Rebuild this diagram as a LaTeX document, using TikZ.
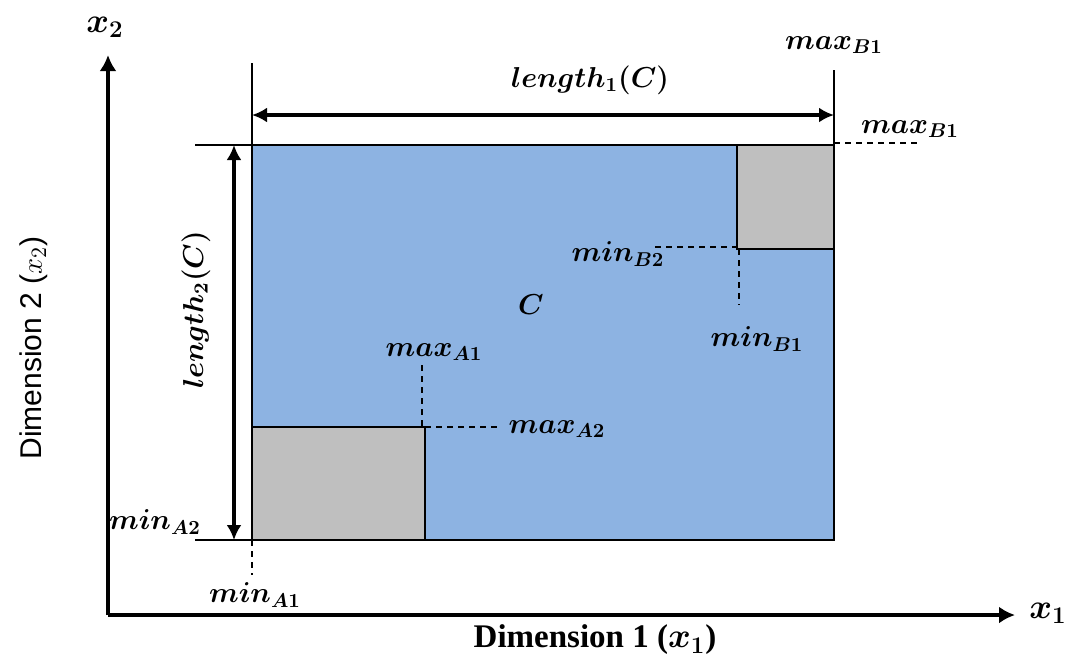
\documentclass[tikz,border=0pt]{standalone}
\usepackage{fontspec}
\usepackage{bm}
\usetikzlibrary{arrows.meta}
\newfontfamily\arialfont{Liberation Sans}
\newfontfamily\timesfont{Liberation Serif}[BoldFont={Liberation Serif Bold}]
\definecolor{cblue}{HTML}{8DB3E2}
\definecolor{cgray}{HTML}{BFBFBF}
\begin{document}
\begin{tikzpicture}[x=0.5pt,y=-0.5pt,
  axis/.style={line width=2pt,-{Latex[length=8pt,width=8.5pt]}},
  dim/.style={line width=1.8pt,{Latex[length=7.5pt,width=7.5pt]}-{Latex[length=7.5pt,width=7.5pt]}},
  guide/.style={line width=0.8pt},
  dashline/.style={line width=0.8pt,dash pattern=on 3pt off 2.5pt},
  lab/.style={inner sep=0pt,font=\fontsize{14.5}{17}\selectfont},
  boxc/.style={draw=black,line width=1.2pt}]
\useasboundingbox (0,0) rectangle (1074,661);
% coordinates
\coordinate (O) at (108,615);
\coordinate (Ytip) at (108,55);
\coordinate (Xtip) at (1015,615);
\coordinate (C1) at (252,145);
\coordinate (C2) at (834,540);
\coordinate (B1) at (737,145);
\coordinate (B2) at (834,249);
\coordinate (A1) at (252,427);
\coordinate (A2) at (425,540);
% main rectangle and boxes
\fill[cblue] (C1) rectangle (C2);
\fill[cgray] (B1) rectangle (B2);
\fill[cgray] (A1) rectangle (A2);
\draw[boxc] (C1) rectangle (C2);
\draw[boxc] (B1) rectangle (B2);
\draw[boxc] (A1) rectangle (A2);
% axes
\draw[axis] (O) -- (Ytip);
\draw[axis] (O) -- (Xtip);
\node[inner sep=0pt,font=\fontsize{18}{20}\selectfont] (x2) at (105,27) {$\bm{x_2}$};
\node[inner sep=0pt,font=\fontsize{18}{20}\selectfont] (x1) at (1048,613) {$\bm{x_1}$};
% guide lines
\coordinate (gL1) at (252,63);
\coordinate (gR1) at (834,70);
\coordinate (gT) at (195,145);
\coordinate (gB) at (195,540);
\coordinate (gB2) at (265,540);
\draw[guide] (gL1) -- (C1);
\draw[guide] (gR1) -- (834,145);
\draw[guide] (gT) -- (C1);
\draw[guide] (gB) -- (gB2);
% dimension arrows
\coordinate (d1a) at (252,115);
\coordinate (d1b) at (834,115);
\coordinate (d2a) at (234,145);
\coordinate (d2b) at (234,540);
\draw[dim] (d1a) -- (d1b);
\draw[dim] (d2a) -- (d2b);
\node[lab] (len1) at (590,80) {$\bm{length_1(C)}$};
\node[lab,rotate=90] (len2) at (196,310) {$\bm{length_2(C)}$};
% C label
\node[lab] (Clab) at (531,305) {$\bm{C}$};
% dashed guides
\coordinate (mA1e) at (252,575);
\draw[dashline] (252,540) -- (mA1e);
\coordinate (xA1s) at (422,365);
\draw[dashline] (xA1s) -- (422,427);
\coordinate (xA2e) at (500,427);
\draw[dashline] (425,427) -- (xA2e);
\coordinate (nB2s) at (655,247);
\draw[dashline] (nB2s) -- (737,247);
\coordinate (nB1e) at (739,305);
\draw[dashline] (739,249) -- (nB1e);
\coordinate (xB1e) at (917,143);
\draw[dashline] (834,143) -- (xB1e);
% labels
\node[lab] (minA1) at (255,595) {$\bm{min_{A1}}$};
\node[lab] (minA2) at (155,522) {$\bm{min_{A2}}$};
\node[lab] (maxA1) at (434,352) {$\bm{max_{A1}}$};
\node[lab] (maxA2) at (557,429) {$\bm{max_{A2}}$};
\node[lab] (minB2) at (618,254) {$\bm{min_{B2}}$};
\node[lab] (minB1) at (757,339) {$\bm{min_{B1}}$};
\node[lab] (maxB1t) at (834,45) {$\bm{max_{B1}}$};
\node[lab] (maxB1r) at (910,129) {$\bm{max_{B1}}$};
% axis titles
\node[inner sep=0pt,rotate=90,font=\arialfont\fontsize{15}{18}\selectfont] (dim2) at (34,348) {Dimension 2 ($x_2$)};
\node[inner sep=0pt,font=\timesfont\bfseries\fontsize{16.5}{19}\selectfont] (dim1) at (595,640) {Dimension 1 ($\bm{x_1}$)};
\end{tikzpicture}
\end{document}
